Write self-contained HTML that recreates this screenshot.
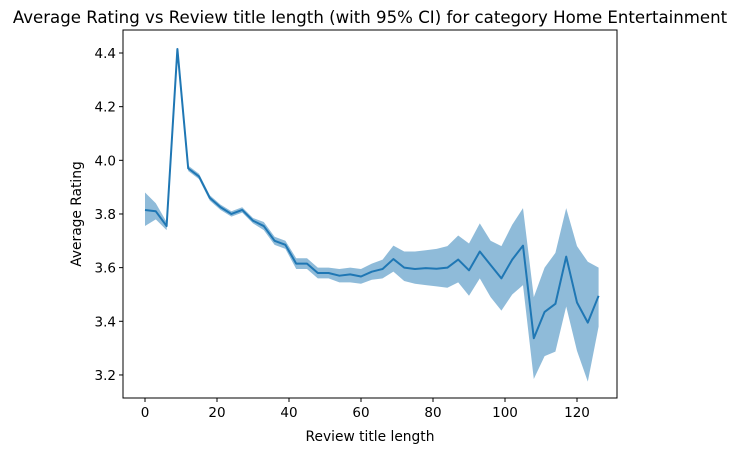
<!DOCTYPE html>
<html><head><meta charset="utf-8"><style>
body{margin:0;background:#fff;font-family:"Liberation Sans","DejaVu Sans",sans-serif}
svg text{font-family:"DejaVu Sans","Liberation Sans",sans-serif;fill:#000}
</style></head><body>
<svg id="c" width="739" height="453"></svg>
<script>
const xs=[0,3,6,9,12,15,18,21,24,27,30,33,36,39,42,45,48,51,54,57,60,63,66,69,72,75,78,81,84,87,90,93,96,99,102,105,108,111,114,117,120,123,126];
const means=[3.815,3.81,3.755,4.415,3.97,3.94,3.86,3.825,3.80,3.815,3.775,3.755,3.70,3.685,3.615,3.615,3.58,3.58,3.57,3.575,3.567,3.585,3.595,3.632,3.60,3.595,3.598,3.596,3.60,3.63,3.59,3.66,3.61,3.56,3.63,3.682,3.337,3.435,3.465,3.641,3.47,3.395,3.495];
const lows=[3.755,3.78,3.74,4.41,3.96,3.93,3.85,3.815,3.79,3.805,3.765,3.74,3.685,3.67,3.595,3.595,3.56,3.56,3.545,3.545,3.54,3.555,3.56,3.585,3.55,3.54,3.535,3.53,3.525,3.545,3.495,3.56,3.49,3.44,3.50,3.535,3.185,3.27,3.287,3.455,3.29,3.175,3.38];
const highs=[3.88,3.84,3.77,4.42,3.98,3.95,3.87,3.835,3.81,3.825,3.785,3.77,3.715,3.70,3.635,3.635,3.60,3.60,3.595,3.60,3.595,3.615,3.63,3.682,3.66,3.66,3.665,3.67,3.68,3.72,3.69,3.765,3.70,3.68,3.76,3.822,3.49,3.60,3.655,3.822,3.68,3.622,3.60];
const xTicks=[0,20,40,60,80,100,120];
const yTicks=[3.2,3.4,3.6,3.8,4.0,4.2,4.4];
const L=123,R=617,T=30,B=398;
const X=v=>145+v*3.6, Y=v=>53+(4.4-v)*268.3;
const s=document.getElementById('c'),NS='http://www.w3.org/2000/svg';
function mk(t,a,txt){const e=document.createElementNS(NS,t);for(const k in a)e.setAttribute(k,a[k]);if(txt!=null)e.textContent=txt;s.appendChild(e);return e;}
let d='M'+xs.map((x,i)=>X(x)+','+Y(highs[i])).join('L')+'L'+xs.map((x,i)=>X(x)+','+Y(lows[i])).reverse().join('L')+'Z';
let band=mk('path',{d:d,fill:'#1f77b4','fill-opacity':0.5,stroke:'none'});


let line=mk('path',{d:'M'+xs.map((x,i)=>X(x)+','+Y(means[i])).join('L'),fill:'none',stroke:'#1f77b4','stroke-width':2,'stroke-linejoin':'round'});


let fr=mk('rect',{x:L,y:T,width:R-L,height:B-T,fill:'none',stroke:'#000','stroke-width':1});


xTicks.forEach(v=>{mk('line',{x1:X(v),x2:X(v),y1:B,y2:B+4,stroke:'#000'});
 const t=mk('text',{x:X(v),y:B+19,'text-anchor':'middle','font-size':13.5},v);
 
 });
yTicks.forEach(v=>{mk('line',{x1:L-4,x2:L,y1:Y(v),y2:Y(v),stroke:'#000'});
 const t=mk('text',{x:L-7,y:Y(v)+5,'text-anchor':'end','font-size':13.5},v.toFixed(1));
 
 });
let xt=mk('text',{x:370,y:441,'text-anchor':'middle','font-size':13.8},'Review title length');


let yt=mk('text',{x:0,y:0,'text-anchor':'middle','font-size':13.8,transform:'translate(81,214) rotate(-90)'},'Average Rating');


let tt=mk('text',{x:370,y:23,'text-anchor':'middle','font-size':16.6},'Average Rating vs Review title length (with 95% CI) for category Home Entertainment');


</script>
</body></html>
